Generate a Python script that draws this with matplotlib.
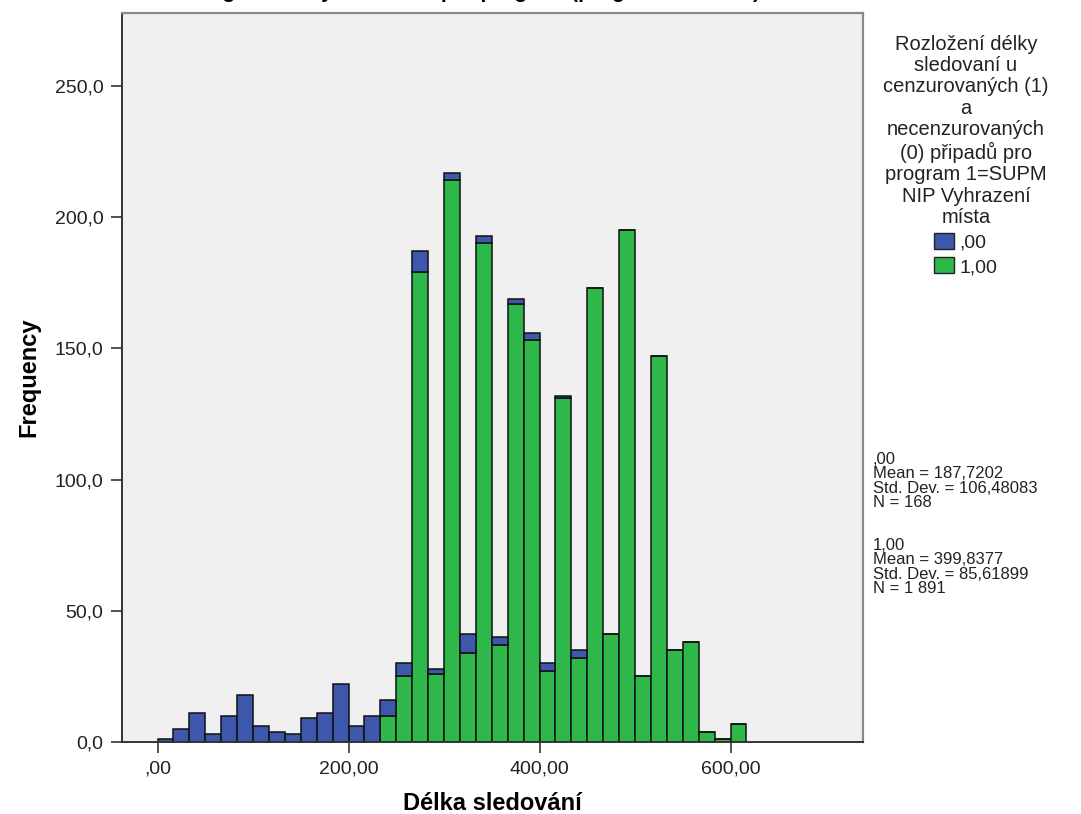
import numpy as np
import matplotlib.pyplot as plt
from matplotlib.patches import Patch

plt.rcParams['font.family'] = ['Liberation Sans', 'DejaVu Sans']

# histogram bins (width 200/12), counts
bin_width = 200 / 12
bin_starts = np.arange(37) * bin_width
green = [0, 0, 0, 0, 0, 0, 0, 0, 0, 0, 0, 0, 0, 0, 10, 25, 179, 26, 214, 34, 190, 37,
         167, 153, 27, 131, 32, 173, 41, 195, 25, 147, 35, 38, 4, 1, 7]
blue = [1, 5, 11, 3, 10, 18, 6, 4, 3, 9, 11, 22, 6, 10, 6, 5, 8, 2, 3, 7, 3, 3,
        2, 3, 3, 1, 3, 0, 0, 0, 0, 0, 0, 0, 0, 0, 0]
series_labels = [',00', '1,00']
x_ticks = [0, 200, 400, 600]
x_tick_labels = [',00', '200,00', '400,00', '600,00']
y_ticks = [0, 50, 100, 150, 200, 250]
y_tick_labels = ['0,0', '50,0', '100,0', '150,0', '200,0', '250,0']
legend_title = ('Rozložení délky\nsledovaní u\ncenzurovaných (1)\na\nnecenzurovaných\n'
                '(0) připadů pro\nprogram 1=SUPM\nNIP Vyhrazení\nmísta')
stats_0 = ',00\nMean = 187,7202\nStd. Dev. = 106,48083\nN = 168'
stats_1 = '1,00\nMean = 399,8377\nStd. Dev. = 85,61899\nN = 1 891'

c_blue = '#3d57ad'
c_green = '#2eb84a'

fig = plt.figure(figsize=(10.81, 8.14), dpi=100)
ax = fig.add_axes([121.5/1081, 1 - 742/814, (863 - 121.5)/1081, (742 - 13)/814])
ax.set_facecolor('#f0f0f0')

ax.bar(bin_starts, green, width=bin_width, align='edge', color=c_green,
       edgecolor='#111111', linewidth=1.1, label=series_labels[1], zorder=2)
ax.bar(bin_starts, blue, width=bin_width, bottom=green, align='edge', color=c_blue,
       edgecolor='#111111', linewidth=1.1, label=series_labels[0], zorder=2)

ax.set_xlim(-37.7, 738.7)
ax.set_ylim(0, 277.8)
ax.set_xticks(x_ticks)
ax.set_xticklabels(x_tick_labels, fontsize=14, color='#222222')
ax.set_yticks(y_ticks)
ax.set_yticklabels(y_tick_labels, fontsize=14, color='#222222')
ax.tick_params(axis='both', direction='out', length=8, width=1.2, color='#333333')
ax.tick_params(axis='x', pad=5)
ax.tick_params(axis='y', pad=5)

for s in ['top', 'right']:
    ax.spines[s].set_color('#8a8a8a')
    ax.spines[s].set_linewidth(1.6)
for s in ['left', 'bottom']:
    ax.spines[s].set_color('#333333')
    ax.spines[s].set_linewidth(1.4)

ax.set_xlabel('Délka sledování', fontsize=17, fontweight='bold')
ax.xaxis.set_label_coords(0.5, -0.068)
ax.set_ylabel('Frequency', fontsize=17, fontweight='bold')
ax.yaxis.set_label_coords(-0.11, 0.5)

# title, mostly cut off at the top edge as in the original
fig.text(0.43, 1.0 + 2/814, 'Histogram délky sledování pro program (program 1=SUPM)',
         fontsize=15, fontweight='bold', ha='center', va='baseline')

handles = [Patch(facecolor=c_blue, edgecolor='#222222', label=series_labels[0]),
           Patch(facecolor=c_green, edgecolor='#222222', label=series_labels[1])]
leg = fig.legend(handles=handles, title=legend_title, loc='upper center',
                 bbox_to_anchor=(966/1081, 1 - 17/814), frameon=False,
                 fontsize=14, title_fontsize=14.5, handlelength=1.0, handleheight=0.88,
                 handletextpad=0.3, labelspacing=0.3, alignment='center')
leg.get_title().set_multialignment('center')
leg.get_title().set_linespacing(1.16)
leg.get_title().set_color('#222222')
for t in leg.get_texts():
    t.set_color('#222222')

fig.text(873/1081, 1 - 452/814, stats_0, fontsize=12, va='top', ha='left',
         linespacing=0.95, color='#222222')
fig.text(873/1081, 1 - 538/814, stats_1, fontsize=12, va='top', ha='left',
         linespacing=0.95, color='#222222')

fig.savefig('out.png', dpi=100)
